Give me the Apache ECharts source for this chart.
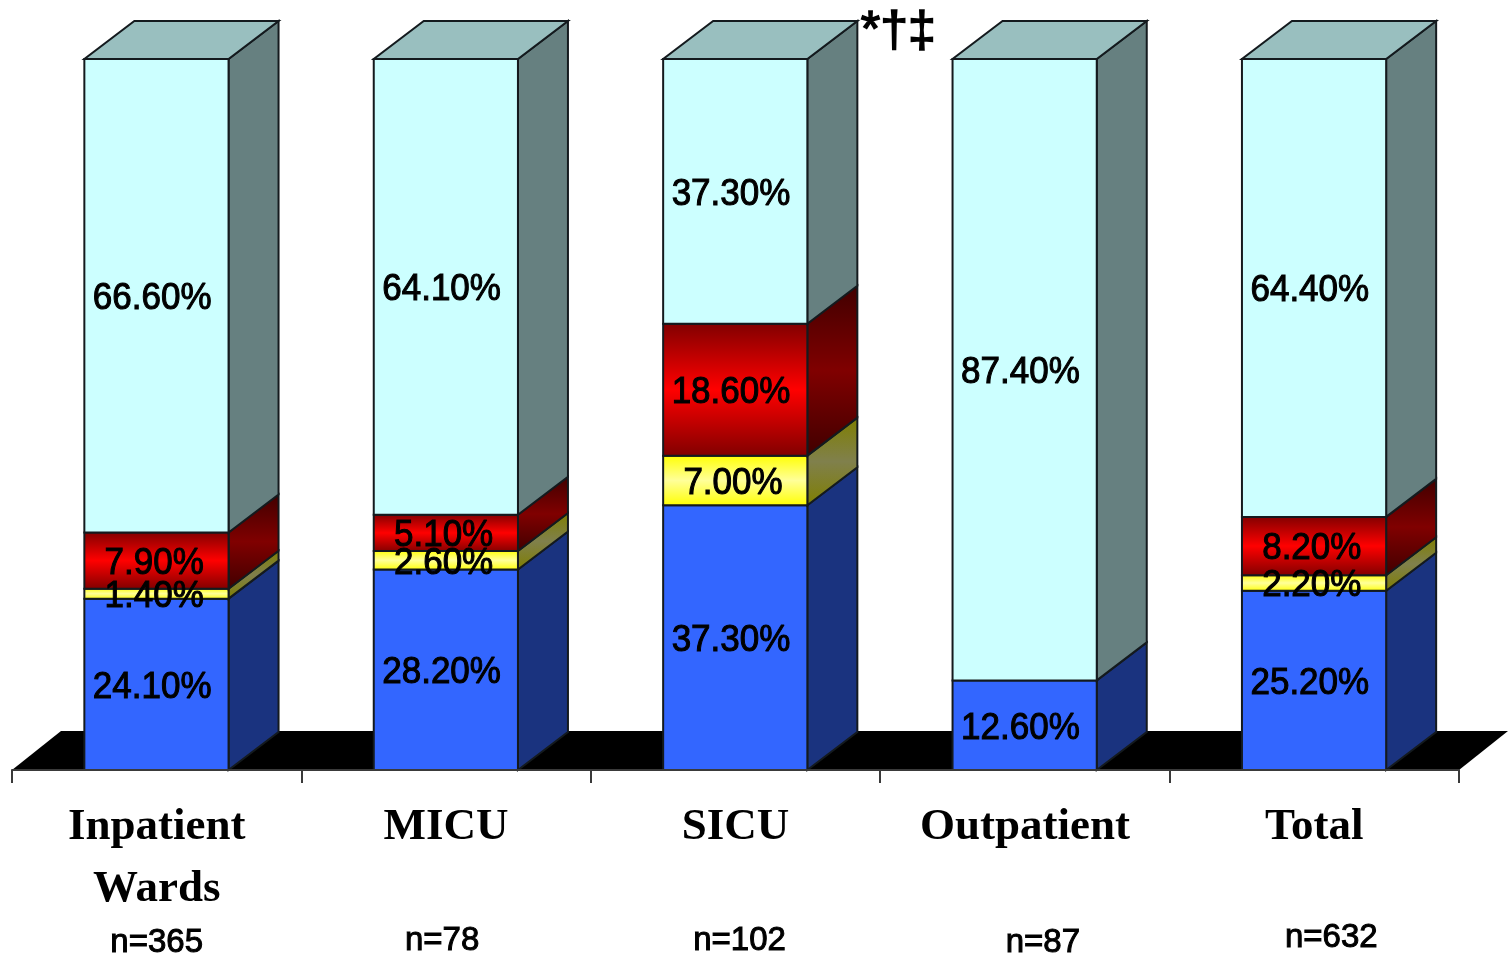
<!DOCTYPE html>
<html>
<head>
<meta charset="utf-8">
<title>Stacked percentages by care setting</title>
<script src="https://cdn.jsdelivr.net/npm/echarts@6/dist/echarts.min.js"></script>
<style>
  html, body { margin: 0; padding: 0; background: #fff; overflow: hidden; }
  #chart { width: 1508px; height: 957px; }
</style>
</head>
<body>
<div id="chart"></div>
<script>
// Care settings and their cohort sizes
const categories = ['Inpatient\nWards', 'MICU', 'SICU', 'Outpatient', 'Total'];
const sampleSizes = ['n=365', 'n=78', 'n=102', 'n=87', 'n=632'];

// Percentage of each group per setting, bottom of the stack first
const blueValues = [24.1, 28.2, 37.3, 12.6, 25.2];
const yellowValues = [1.4, 2.6, 7.0, 0, 2.2];
const redValues = [7.9, 5.1, 18.6, 0, 8.2];
const cyanValues = [66.6, 64.1, 37.3, 87.4, 64.4];

// Significance marks printed beside the SICU column
const significanceMarks = '*†‡';

// Oblique projection of the columns
const DEPTH_X = 50;
const DEPTH_Y = -38;
const BAR_RATIO = 0.5;
const OUTLINE = '#141a1e';

function band(stops) {
  return {
    type: 'linear', x: 0, y: 0, x2: 0, y2: 1,
    colorStops: stops.map(function (c, i) { return { offset: i / (stops.length - 1), color: c }; })
  };
}

const layers = [
  { name: 'Blue', values: blueValues, front: '#3366ff', side: '#1a337f', top: '#3366ff' },
  { name: 'Yellow', values: yellowValues,
    front: band(['#ffff00', '#ffff99', '#ffff00']),
    side: band(['#7f7f00', '#80804c', '#7f7f00']), top: '#bfbf40' },
  { name: 'Red', values: redValues,
    front: band(['#800000', '#ff0000', '#800000']),
    side: band(['#400000', '#800000', '#400000']), top: '#bf0000' },
  { name: 'Cyan', values: cyanValues, front: '#ccffff', side: '#668080', top: '#99bfbf' }
];

// Each column is scaled so that its stack fills the full height of the axis
const columnTotals = categories.map(function (_, i) {
  return layers.reduce(function (sum, l) { return sum + l.values[i]; }, 0);
});

const running = categories.map(function () { return 0; });
const labelRows = [];
layers.forEach(function (layer) {
  layer.rows = categories.map(function (_, i) {
    const base = running[i];
    const top = base + layer.values[i] / columnTotals[i] * 100;
    running[i] = top;
    if (layer.values[i] > 0) {
      labelRows.push([i, (base + top) / 2, layer.values[i].toFixed(2) + '%', layer.values[i]]);
    }
    return [i, base, top];
  });
});

function outlineStyle(fill) {
  return { fill: fill, stroke: OUTLINE, lineWidth: 2 };
}

function poly(points, fill) {
  return { type: 'polygon', shape: { points: points }, style: outlineStyle(fill) };
}

function renderLayer(layer, isTopLayer) {
  return function (params, api) {
    const base = api.value(1);
    const top = api.value(2);
    if (top - base <= 0) { return { type: 'group', children: [] }; }
    const bandWidth = api.size([1, 0])[0];
    const half = bandWidth * BAR_RATIO / 2;
    const lower = api.coord([api.value(0), base]);
    const upper = api.coord([api.value(0), top]);
    const x0 = lower[0] - half;
    const x1 = lower[0] + half - 0.5;
    const children = [
      poly([[x1, lower[1]], [x1 + DEPTH_X, lower[1] + DEPTH_Y], [x1 + DEPTH_X, upper[1] + DEPTH_Y], [x1, upper[1]]], layer.side),
      poly([[x0, lower[1]], [x1, lower[1]], [x1, upper[1]], [x0, upper[1]]], layer.front)
    ];
    if (isTopLayer) {
      children.push(poly([[x0, upper[1]], [x1, upper[1]], [x1 + DEPTH_X, upper[1] + DEPTH_Y], [x0 + DEPTH_X, upper[1] + DEPTH_Y]], layer.top));
    }
    return { type: 'group', children: children };
  };
}

const series = [];

// Black floor under the columns
series.push({
  type: 'custom', name: 'Floor', z: 1, silent: true, clip: false,
  data: [[0]],
  encode: { x: 0 },
  renderItem: function (params, api) {
    const r = params.coordSys;
    const y = r.y + r.height;
    return {
      type: 'polygon',
      shape: { points: [[r.x, y], [r.x + r.width, y], [r.x + r.width + 49, y - 39], [r.x + 49, y - 39]] },
      style: { fill: '#000' }
    };
  }
});

layers.forEach(function (layer, idx) {
  series.push({
    type: 'custom', name: layer.name, z: 2 + idx, silent: true, clip: false,
    data: layer.rows,
    encode: { x: 0, y: [1, 2] },
    renderItem: renderLayer(layer, idx === layers.length - 1)
  });
});

// Percentage labels sit above all columns so short neighbours may overlap
series.push({
  type: 'custom', name: 'Percent labels', z: 10, silent: true, clip: false,
  data: labelRows,
  encode: { x: 0, y: 1 },
  renderItem: function (params, api) {
    const p = api.coord([api.value(0), api.value(1)]);
    const row = labelRows[params.dataIndex];
    return {
      type: 'text',
      x: p[0] - (row[3] < 10 ? 2.5 : 4.5),
      y: p[1] + 3,
      scaleY: 1.08,
      style: {
        x: 0, y: 0,
        text: row[2],
        font: '35px "Liberation Sans"',
        fill: '#000', stroke: '#000', lineWidth: 1,
        align: 'center', verticalAlign: 'middle'
      }
    };
  }
});

// Cohort sizes under the category names
const countNudgeX = [0, -4, 4, 18, 17];
const countY = [943, 941, 941, 943, 938];
series.push({
  type: 'custom', name: 'Cohort sizes', z: 10, silent: true, clip: false,
  data: sampleSizes.map(function (_, i) { return [i]; }),
  encode: { x: 0 },
  renderItem: function (params, api) {
    const i = api.value(0);
    const p = api.coord([i, 0]);
    return {
      type: 'text',
      style: {
        x: p[0] + countNudgeX[i], y: countY[i],
        text: sampleSizes[i],
        font: '33px "Liberation Sans"',
        fill: '#000', stroke: '#000', lineWidth: 1,
        align: 'center', verticalAlign: 'middle'
      }
    };
  }
});

const chart = echarts.init(document.getElementById('chart'), null, { renderer: 'canvas' });
chart.setOption({
  animation: false,
  backgroundColor: '#fff',
  tooltip: { show: false },
  legend: { show: false },
  grid: { left: 12, right: 49, top: 59, bottom: 187, containLabel: false },
  xAxis: {
    type: 'category',
    data: categories,
    z: 12,
    axisLine: { show: true, lineStyle: { color: '#3a3a3a', width: 2 } },
    axisTick: { show: true, alignWithLabel: false, length: 13, lineStyle: { color: '#3a3a3a', width: 2 } },
    axisLabel: {
      interval: 0, margin: 26,
      fontFamily: '"Liberation Serif"', fontWeight: 'bold', fontSize: 45,
      lineHeight: 62, color: '#000'
    },
    splitLine: { show: false }
  },
  yAxis: { type: 'value', min: 0, max: 100, show: false, splitLine: { show: false } },
  graphic: [{
    type: 'text', left: 860, top: 6, z: 20, silent: true,
    style: {
      text: significanceMarks,
      font: '50px "Liberation Sans"',
      fill: '#000', stroke: '#000', lineWidth: 1.5
    }
  }],
  series: series
});
</script>
</body>
</html>
